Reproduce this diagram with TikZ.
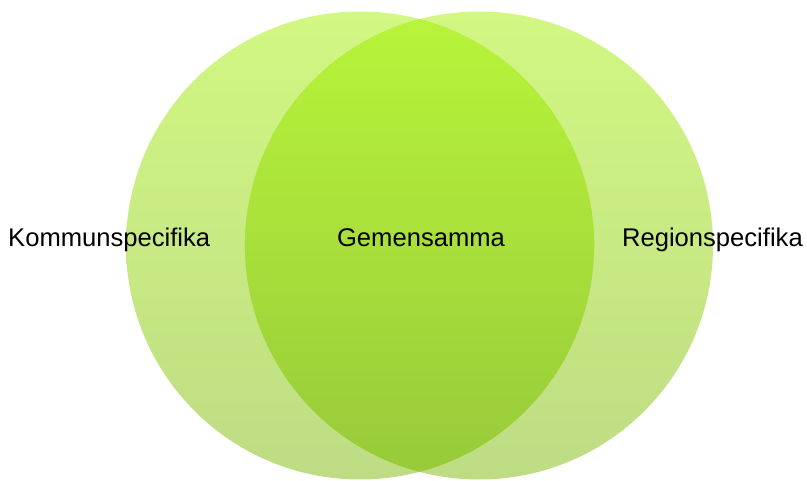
\documentclass[tikz,border=0pt]{standalone}
\usepackage{fontspec}
\setmainfont{Liberation Sans}
\definecolor{outtop}{RGB}{210,247,130}
\definecolor{outbot}{RGB}{190,220,132}
\definecolor{intop}{RGB}{184,244,58}
\definecolor{inbot}{RGB}{152,202,58}
\definecolor{inmid}{RGB}{170,224,62}
\tikzset{
  ring/.style={circle, minimum size=468pt, inner sep=0pt, draw=none, top color=outtop, bottom color=outbot},
  lbl/.style={font=\fontsize{25.6}{30}\selectfont, inner sep=0pt, anchor=base},
  lens/.pic={\path[pic actions] (0,0) arc[start angle=-75.27, end angle=75.27, radius=234]
  arc[start angle=104.73, end angle=255.27, radius=234] -- cycle;}
}
\begin{document}
\begin{tikzpicture}[x=1pt,y=-1pt]
\useasboundingbox (0,0) rectangle (807,481);
\node[ring] (L) at (360,245.5) {};
\node[ring] (R) at (479,245.5) {};
\coordinate (top) at (419.5,19.2);
\pic[fill=inmid] at (top) {lens};
\pic[top color=intop, bottom color=inbot] at (top) {lens};
\node[lbl, anchor=base west] (k) at (8,247) {Kommunspecifika};
\node[lbl] (g) at (421,247) {Gemensamma};
\node[lbl, anchor=base east] (r) at (803,247) {Regionspecifika};
\end{tikzpicture}
\end{document}
